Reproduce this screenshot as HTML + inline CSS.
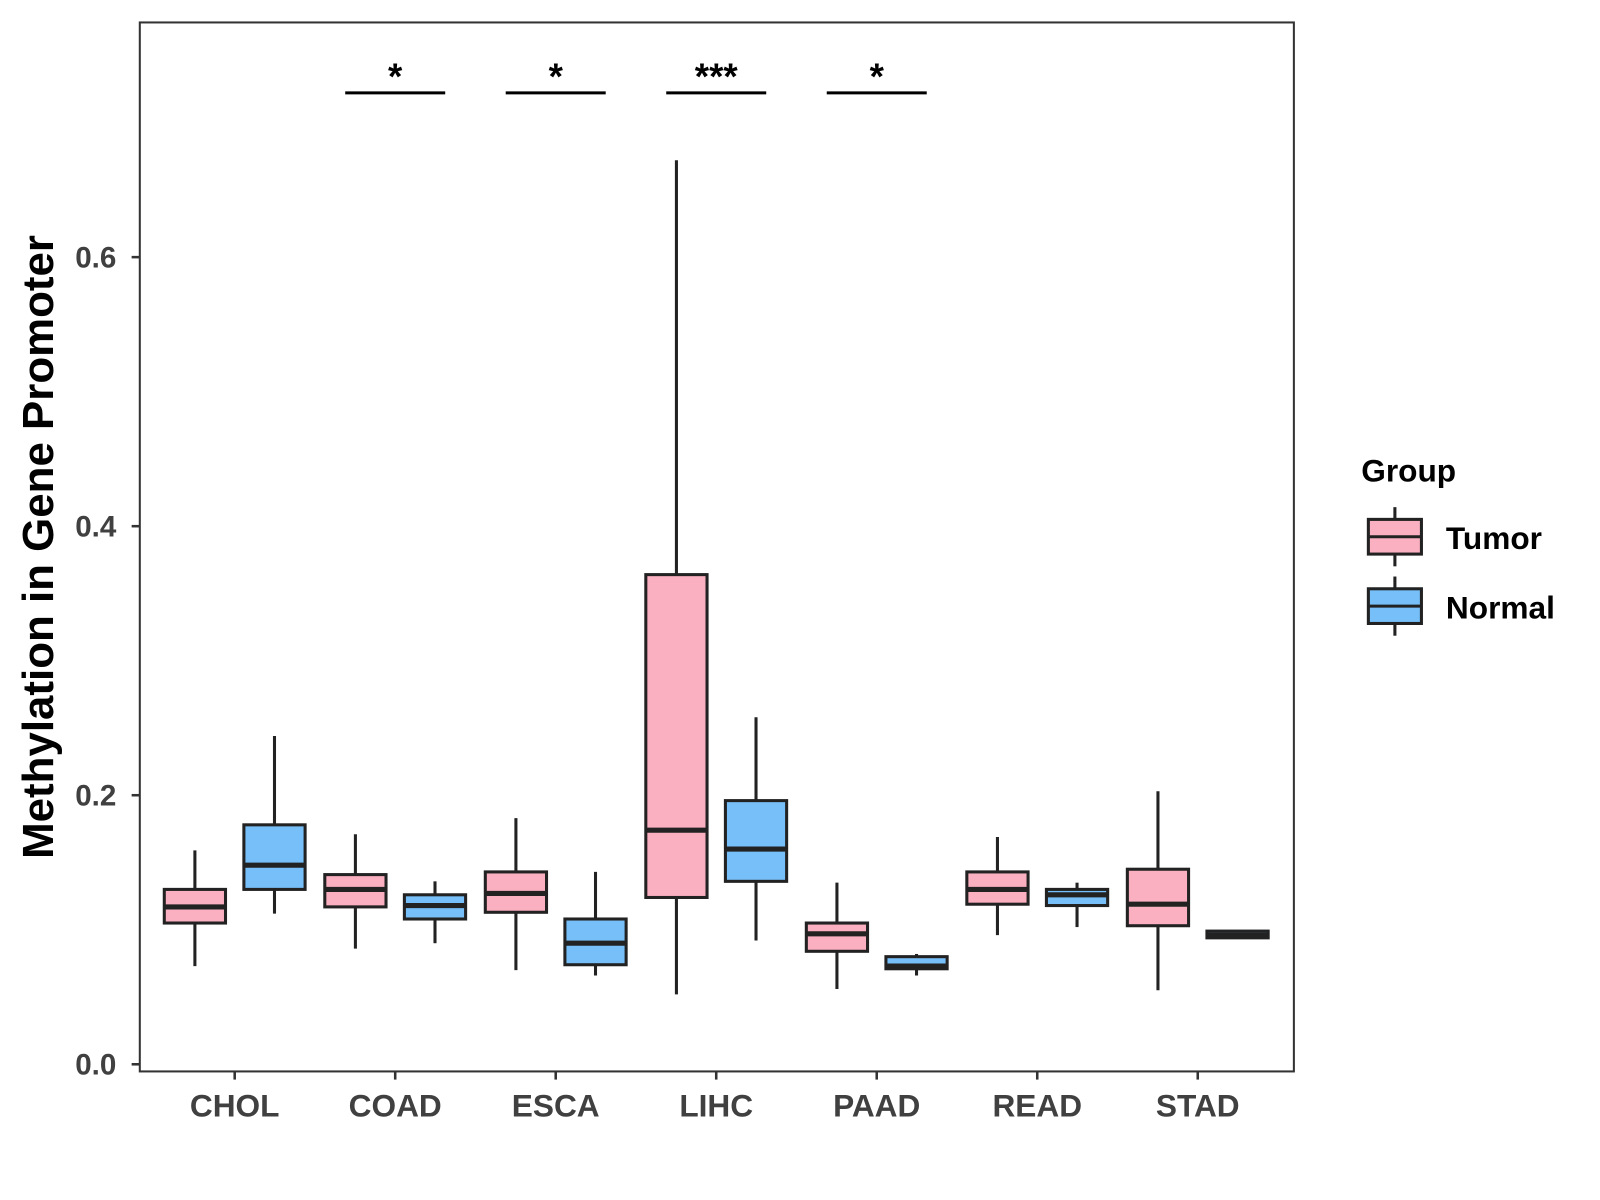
<!DOCTYPE html>
<html><head><meta charset="utf-8"><style>
html,body{margin:0;padding:0;background:#fff;}
svg{display:block;font-family:"Liberation Sans",Arial,sans-serif;}
</style></head><body>
<svg id="chart" width="1600" height="1200" viewBox="0 0 1568 1176" xmlns="http://www.w3.org/2000/svg">
<rect x="0" y="0" width="1568" height="1176" fill="#fff"/>
<g id="plot"></g>
<rect x="137" y="22" width="1131" height="1028" fill="none" stroke="#333" stroke-width="2"/>
<text transform="translate(52,536) rotate(-90)" text-anchor="middle" font-size="43" font-weight="bold" fill="#000">Methylation in Gene Promoter</text>
<g>
<text x="1334" y="472" font-size="31" font-weight="bold" fill="#000">Group</text>
<g>
<line x1="1367" y1="497" x2="1367" y2="555" stroke="#222" stroke-width="3"/>
<rect x="1341" y="509" width="52" height="34" fill="#FBB0C1" stroke="#222" stroke-width="3"/>
<line x1="1341" y1="526" x2="1393" y2="526" stroke="#222" stroke-width="3"/>
<text x="1417" y="538" font-size="31" font-weight="bold" fill="#000">Tumor</text>
</g>
<g>
<line x1="1367" y1="565" x2="1367" y2="623" stroke="#222" stroke-width="3"/>
<rect x="1341" y="577" width="52" height="34" fill="#76BFF8" stroke="#222" stroke-width="3"/>
<line x1="1341" y1="594" x2="1393" y2="594" stroke="#222" stroke-width="3"/>
<text x="1417" y="606" font-size="31" font-weight="bold" fill="#000">Normal</text>
</g>
</g>
</svg>
<script>
const categories = ["CHOL","COAD","ESCA","LIHC","PAAD","READ","STAD"];
const tumorMin = [0.073,0.086,0.070,0.052,0.056,0.096,0.055];
const tumorQ1  = [0.105,0.117,0.113,0.124,0.084,0.119,0.103];
const tumorMed = [0.117,0.130,0.127,0.174,0.097,0.130,0.119];
const tumorQ3  = [0.130,0.141,0.143,0.364,0.105,0.143,0.145];
const tumorMax = [0.159,0.171,0.183,0.672,0.135,0.169,0.203];
const normalMin = [0.112,0.090,0.066,0.092,0.066,0.102,0.095];
const normalQ1  = [0.130,0.108,0.074,0.136,0.071,0.118,0.094];
const normalMed = [0.148,0.118,0.090,0.160,0.073,0.126,0.096];
const normalQ3  = [0.178,0.126,0.108,0.196,0.080,0.130,0.099];
const normalMax = [0.244,0.136,0.143,0.258,0.082,0.135,0.098];
const yTicks = [0.0,0.2,0.4,0.6];
const yTickLabels = ["0.0","0.2","0.4","0.6"];
const sigCategories = ["COAD","ESCA","LIHC","PAAD"];
const sigLabels = ["*","*","***","*"];

const NS="http://www.w3.org/2000/svg";
const g=document.getElementById('plot');
function y(v){return 1043-(v/0.6)*(1043-252);}
function x(i){return 230+i*157.3;}
function mk(tag,attrs,parent){const e=document.createElementNS(NS,tag);for(const k in attrs)e.setAttribute(k,attrs[k]);(parent||g).appendChild(e);return e;}

yTicks.forEach((t,i)=>{
  const tk=mk('line',{x1:129,x2:137,y1:y(t),y2:y(t),stroke:'#333','stroke-width':2.5});
  
  
  const tl=mk('text',{x:114,y:y(t)+10,'text-anchor':'end','font-size':29,'font-weight':'bold',fill:'#404040'});
  tl.textContent=yTickLabels[i];
  
  
});
categories.forEach((c,i)=>{
  const tk=mk('line',{x1:x(i),x2:x(i),y1:1050,y2:1058,stroke:'#333','stroke-width':2.5});
  
  
  const tl=mk('text',{x:x(i),y:1094,'text-anchor':'middle','font-size':31,'font-weight':'bold',fill:'#404040'});
  tl.textContent=c;
  
  
});
function box(cx,mn,q1,md,q3,mx,fill,name){
  const grp=mk('g',{});
  
  
  mk('line',{x1:cx,x2:cx,y1:y(mx),y2:y(mn),stroke:'#222','stroke-width':3},grp);
  mk('rect',{x:cx-30,y:y(q3),width:60,height:Math.max(y(q1)-y(q3),1),fill:fill,stroke:'#222','stroke-width':3},grp);
  mk('line',{x1:cx-30,x2:cx+30,y1:y(md),y2:y(md),stroke:'#222','stroke-width':5},grp);
}
categories.forEach((c,i)=>{
  box(x(i)-39,tumorMin[i],tumorQ1[i],tumorMed[i],tumorQ3[i],tumorMax[i],'#FBB0C1','box-tumor-'+c.toLowerCase());
  box(x(i)+39,normalMin[i],normalQ1[i],normalMed[i],normalQ3[i],normalMax[i],'#76BFF8','box-normal-'+c.toLowerCase());
});
sigCategories.forEach((c,j)=>{
  const i=categories.indexOf(c);
  const ln=mk('line',{x1:x(i)-49,x2:x(i)+49,y1:91,y2:91,stroke:'#000','stroke-width':3});
  
  
  const t=mk('text',{x:x(i),y:87,'text-anchor':'middle','font-size':36,'font-weight':'bold',fill:'#000'});
  t.textContent=sigLabels[j];
  
  
});
</script>
</body></html>
